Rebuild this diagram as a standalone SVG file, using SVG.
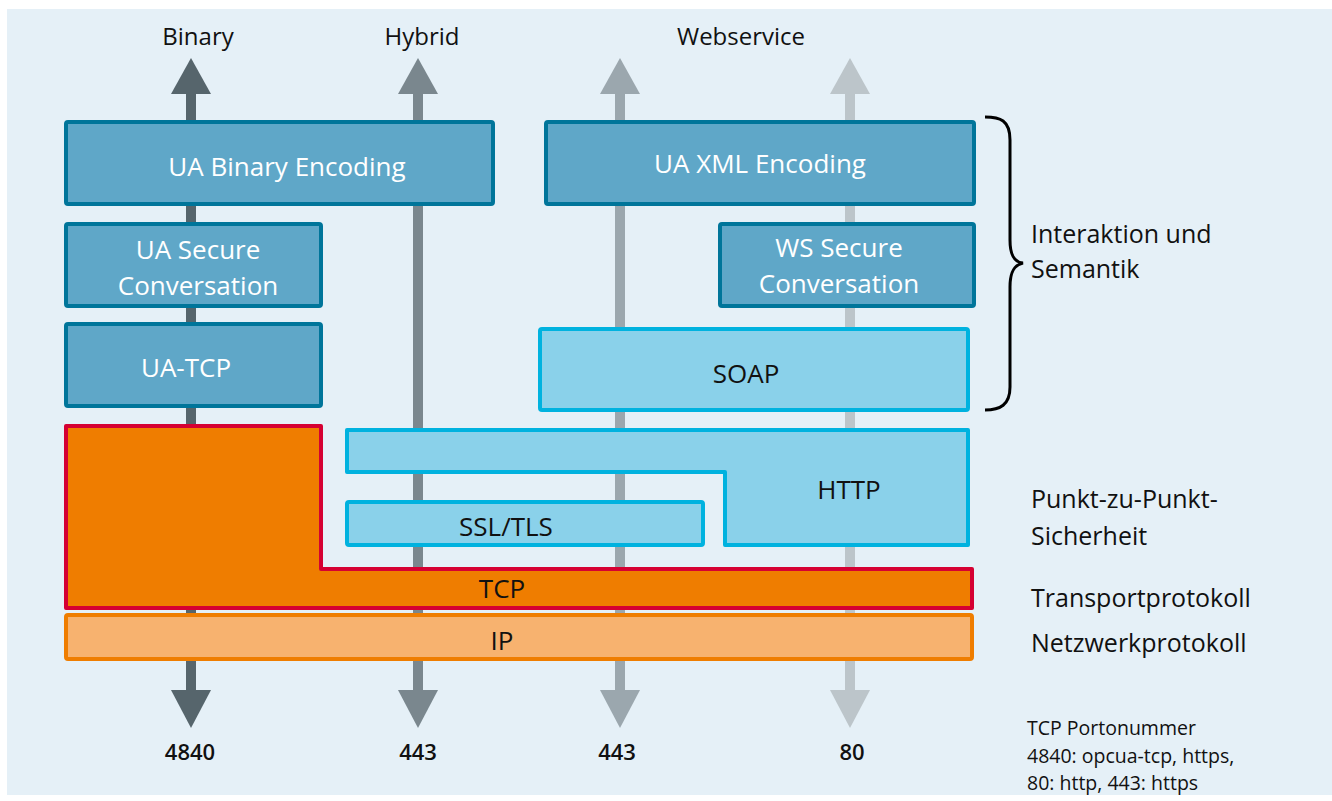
<svg xmlns="http://www.w3.org/2000/svg" width="1332" height="801" viewBox="0 0 1332 801">
<style>
text{font-family:"Open Sans","Noto Sans","Liberation Sans",sans-serif;}
.lbl{font-size:25px;fill:#111;}
.top{font-size:24px;fill:#111;text-anchor:middle;}
.small{font-size:19.5px;fill:#111;}
.w{font-size:26px;fill:#fff;text-anchor:middle;}
.d{font-size:26px;fill:#111;text-anchor:middle;}
.num{font-size:22px;fill:#111;text-anchor:middle;font-weight:600;}
.dark{fill:#5fa7c8;stroke:#00759a;stroke-width:4;}
.light{fill:#8ad1ea;stroke:#00b2df;stroke-width:4;}
</style>
<rect x="7" y="9" width="1325" height="786" fill="#e5f0f7"/>
<g id="connectors">
  <g fill="#56656c"><rect x="186" y="92" width="10" height="602"/><polygon points="171,94 211,94 191,58"/><polygon points="171,690 211,690 191,728"/></g>
  <g fill="#7a878e"><rect x="413" y="92" width="10" height="602"/><polygon points="398,94 438,94 418,58"/><polygon points="398,690 438,690 418,728"/></g>
  <g fill="#9ba7ae"><rect x="615" y="92" width="10" height="602"/><polygon points="600,94 640,94 620,58"/><polygon points="600,690 640,690 620,728"/></g>
  <g fill="#bcc5ca"><rect x="845" y="92" width="10" height="602"/><polygon points="830,94 870,94 850,58"/><polygon points="830,690 870,690 850,728"/></g>
</g>
<g id="ua-binary"><rect class="dark" x="66" y="122" width="427" height="82" rx="2"/><text class="w" x="287" y="176">UA Binary Encoding</text></g>
<g id="ua-xml"><rect class="dark" x="546" y="122" width="428" height="82" rx="2"/><text class="w" x="760" y="173">UA XML Encoding</text></g>
<g id="ua-secure"><rect class="dark" x="66" y="224" width="255" height="82" rx="2"/><text class="w" x="198" y="259">UA Secure</text><text class="w" x="198" y="295">Conversation</text></g>
<g id="ua-tcp"><rect class="dark" x="66" y="324" width="255" height="82" rx="2"/><text class="w" x="186" y="377">UA-TCP</text></g>
<g id="ws-secure"><rect class="dark" x="720" y="224" width="254" height="82" rx="2"/><text class="w" x="839" y="257">WS Secure</text><text class="w" x="839" y="293">Conversation</text></g>
<g id="soap"><rect class="light" x="540" y="329" width="428" height="81" rx="2"/><text class="d" x="746" y="383">SOAP</text></g>
<g id="http"><polygon class="light" points="347,430 968,430 968,545 725,545 725,472 347,472" stroke-linejoin="round"/><text class="d" x="849" y="499">HTTP</text></g>
<g id="ssl"><rect class="light" x="347" y="502" width="356" height="43" rx="2"/><text class="d" x="506" y="536">SSL/TLS</text></g>
<g id="tcp"><polygon points="66,426 321,426 321,569 972,569 972,608 66,608" fill="#ef7d00" stroke="#d50032" stroke-width="4" stroke-linejoin="round"/><text class="d" x="502" y="598">TCP</text></g>
<g id="ip"><rect x="66" y="615" width="906" height="44" rx="2" fill="#f7b26f" stroke="#ef7d00" stroke-width="4"/><text class="d" x="502" y="650">IP</text></g>
<g id="labels">
  <text class="top" x="198" y="45">Binary</text>
  <text class="top" x="422" y="45">Hybrid</text>
  <text class="top" x="741" y="45">Webservice</text>
  <text class="num" x="190" y="760">4840</text>
  <text class="num" x="418" y="760">443</text>
  <text class="num" x="617" y="760">443</text>
  <text class="num" x="852" y="760">80</text>
  <path d="M985,117 C1000,117 1010,120 1010,140 L1010,240 C1010,255 1014,262 1023,263 C1014,265 1010,272 1010,287 L1010,387 C1010,405 1000,410 985,410" fill="none" stroke="#000" stroke-width="3"/>
  <text class="lbl" x="1031" y="243">Interaktion und</text>
  <text class="lbl" x="1031" y="278">Semantik</text>
  <text class="lbl" x="1031" y="508">Punkt-zu-Punkt-</text>
  <text class="lbl" x="1031" y="545">Sicherheit</text>
  <text class="lbl" x="1031" y="607">Transportprotokoll</text>
  <text class="lbl" x="1031" y="652">Netzwerkprotokoll</text>
  <text class="small" x="1027" y="735">TCP Portonummer</text>
  <text class="small" x="1027" y="763">4840: opcua-tcp, https,</text>
  <text class="small" x="1027" y="790">80: http, 443: https</text>
</g>
</svg>
